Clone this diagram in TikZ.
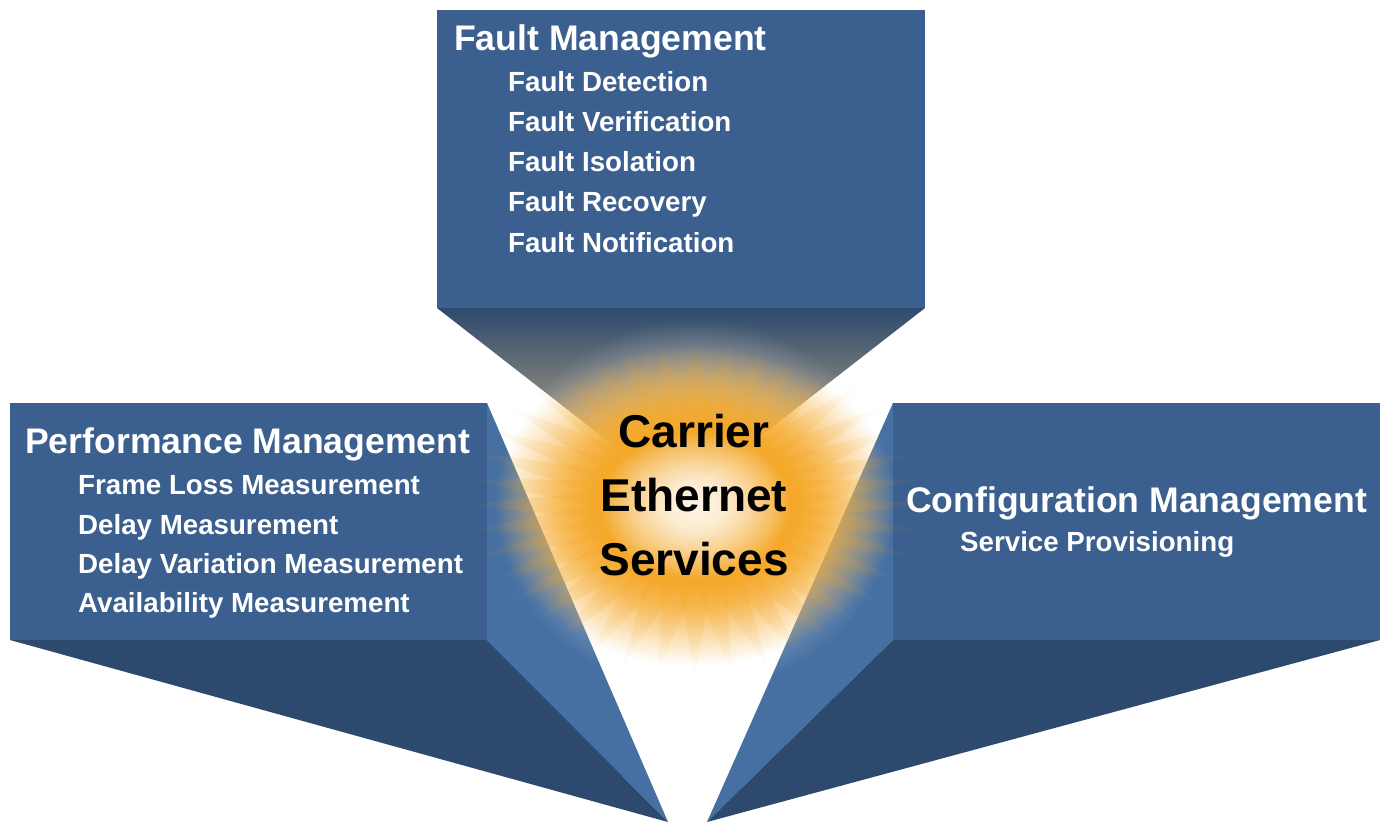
\documentclass[tikz,border=0pt]{standalone}
\usepackage{fontspec}
\setmainfont{Liberation Sans}
\usetikzlibrary{fadings,calc}
\pgfdeclareradialshading{glowsoftsh}{\pgfpointorigin}{color(0bp)=(pgftransparent!0); color(8bp)=(pgftransparent!15); color(25bp)=(pgftransparent!100); color(50bp)=(pgftransparent!100)}
\pgfdeclarefading{glowsoft}{\pgfuseshading{glowsoftsh}}
\pgfdeclareradialshading{glowringsh}{\pgfpointorigin}{color(0bp)=(pgftransparent!80); color(7bp)=(pgftransparent!45); color(12bp)=(pgftransparent!5); color(16bp)=(pgftransparent!25); color(25bp)=(pgftransparent!100); color(50bp)=(pgftransparent!100)}
\pgfdeclarefading{glowring}{\pgfuseshading{glowringsh}}
\definecolor{frontc}{HTML}{3B5F8E}
\definecolor{bottomc}{HTML}{2D4A6E}
\definecolor{sidec}{HTML}{4670A2}
\definecolor{glowc}{HTML}{F5A623}
\definecolor{paleglow}{HTML}{E9C48A}
\begin{document}
\begin{tikzpicture}[x=1pt,y=-1pt,
  front/.style={fill=frontc},
  bottomface/.style={fill=bottomc},
  sideface/.style={fill=sidec},
  head/.style={font=\fontsize{35.6}{40}\selectfont\bfseries, text=white, inner sep=0pt, anchor=base west},
  itemtext/.style={font=\fontsize{27.7}{30}\selectfont\bfseries, text=white, inner sep=0pt, anchor=base west},
  centertext/.style={font=\fontsize{46}{50}\selectfont\bfseries, text=black, inner sep=0pt, anchor=base}]
\useasboundingbox (0,0) rectangle (1386,822);
\fill[white] (0,0) rectangle (1386,822);

% ---- top box (Fault Management)
\coordinate (ftl) at (437,10);
\coordinate (ftr) at (925,10);
\coordinate (fbl) at (437,308);
\coordinate (fbr) at (925,308);
\coordinate (fap) at (681,498);
\shade[top color=bottomc, middle color=bottomc!90!white, bottom color=paleglow] (fbl) -- (fbr) -- (fap) -- cycle;
\fill[front] (ftl) rectangle (fbr);

% ---- left box (Performance Management)
\coordinate (ltl) at (10,403);
\coordinate (ltr) at (487,403);
\coordinate (lbl) at (10,640);
\coordinate (lbr) at (487,640);
\coordinate (lap) at (668,822);
\fill[sideface] (ltr) -- (lbr) -- (lap) -- cycle;
\fill[bottomface] (lbl) -- (lbr) -- (lap) -- cycle;
\fill[front] (ltl) rectangle (lbr);

% ---- right box (Configuration Management)
\coordinate (rtl) at (893,403);
\coordinate (rtr) at (1380,403);
\coordinate (rbl) at (893,640);
\coordinate (rbr) at (1380,640);
\coordinate (rap) at (707,822);
\fill[sideface] (rtl) -- (rbl) -- (rap) -- cycle;
\fill[bottomface] (rbl) -- (rbr) -- (rap) -- cycle;
\fill[front] (rtl) rectangle (rbr);

% ---- glow
\coordinate (C) at (695,505);
\fill[white, path fading=glowsoft, opacity=0.9] (C) ellipse (200 and 185);
\foreach \rot in {0,9} {
\fill[glowc, path fading=glowsoft, opacity=0.4]
  ($(C)+({\rot}:235 and 170)$)
  \foreach \k in {1,...,20} { -- ($(C)+({\rot+\k*18-9}:105 and 80)$) -- ($(C)+({\rot+\k*18}:235 and 170)$) } -- cycle;
}
\fill[glowc, path fading=glowring] (C) ellipse (200 and 160);
\fill[white, path fading=glowsoft, opacity=0.85] (C) ellipse (95 and 72);

% ---- texts
\node[head] (fm) at (454,50) {Fault Management};
\node[itemtext] (f1) at (508,91) {Fault Detection};
\node[itemtext] (f2) at (508,131) {Fault Verification};
\node[itemtext] (f3) at (508,171) {Fault Isolation};
\node[itemtext] (f4) at (508,211) {Fault Recovery};
\node[itemtext] (f5) at (508,252) {Fault Notification};

\node[head] (pm) at (25,453) {Performance Management};
\node[itemtext] (p1) at (78,494) {Frame Loss Measurement};
\node[itemtext] (p2) at (78,534) {Delay Measurement};
\node[itemtext] (p3) at (78,573) {Delay Variation Measurement};
\node[itemtext] (p4) at (78,612) {Availability Measurement};

\node[head] (cm) at (906,512) {Configuration Management};
\node[itemtext] (c1) at (960,551) {Service Provisioning};

\node[centertext] (ce1) at (694,447) {Carrier};
\node[centertext] (ce2) at (694,511) {Ethernet};
\node[centertext] (ce3) at (694,575) {Services};
\end{tikzpicture}
\end{document}
